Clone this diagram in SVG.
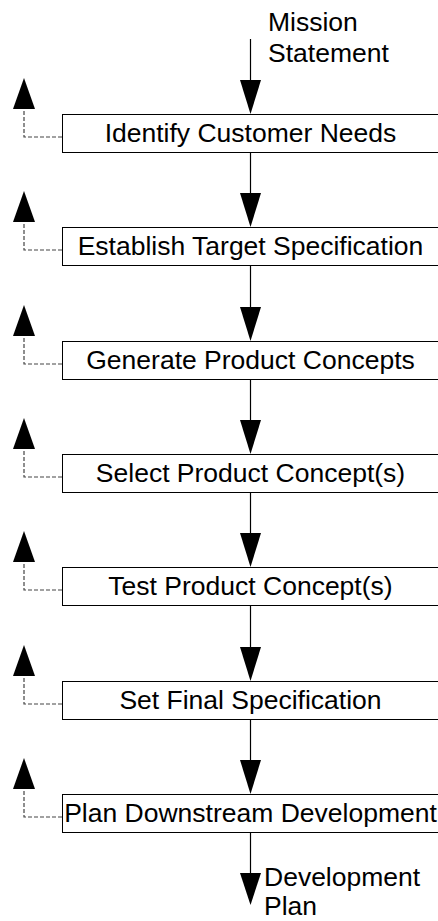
<svg xmlns="http://www.w3.org/2000/svg" width="438" height="921" viewBox="0 0 438 921">
<defs>
<style>
.box{fill:#fff;stroke:#000;stroke-width:1}
.lbl{font-family:"Liberation Sans",Arial,sans-serif;font-size:26.5px;fill:#000}
.c{text-anchor:middle}
.flow{stroke:#000;stroke-width:1.2;fill:none}
.head{fill:#000;stroke:none}
.fb{stroke:#444;stroke-width:1.2;fill:none;stroke-dasharray:4,2}
</style>
</defs>
<rect width="438" height="921" fill="#fff"/>
<g id="connectors">
<line class="flow" x1="250.5" y1="39" x2="250.5" y2="82"/>
<polygon class="head" points="240,80 261,80 250.5,114"/>
<line class="flow" x1="250.5" y1="152" x2="250.5" y2="195"/>
<polygon class="head" points="240,193 261,193 250.5,227"/>
<line class="flow" x1="250.5" y1="265" x2="250.5" y2="309"/>
<polygon class="head" points="240,307 261,307 250.5,341"/>
<line class="flow" x1="250.5" y1="379" x2="250.5" y2="422"/>
<polygon class="head" points="240,420 261,420 250.5,454"/>
<line class="flow" x1="250.5" y1="492" x2="250.5" y2="535"/>
<polygon class="head" points="240,533 261,533 250.5,567"/>
<line class="flow" x1="250.5" y1="605" x2="250.5" y2="649"/>
<polygon class="head" points="240,647 261,647 250.5,681"/>
<line class="flow" x1="250.5" y1="719" x2="250.5" y2="762"/>
<polygon class="head" points="240,760 261,760 250.5,794"/>
<line class="flow" x1="250.5" y1="832" x2="250.5" y2="875"/>
<polygon class="head" points="240,873 261,873 250.5,905"/>
<polyline class="fb" points="62,137 24,137 24,108"/>
<polygon class="head" points="13,109 35,109 24,78"/>
<polyline class="fb" points="62,250 24,250 24,221"/>
<polygon class="head" points="13,222 35,222 24,191"/>
<polyline class="fb" points="62,364 24,364 24,335"/>
<polygon class="head" points="13,336 35,336 24,305"/>
<polyline class="fb" points="62,477 24,477 24,448"/>
<polygon class="head" points="13,449 35,449 24,418"/>
<polyline class="fb" points="62,590 24,590 24,561"/>
<polygon class="head" points="13,562 35,562 24,531"/>
<polyline class="fb" points="62,704 24,704 24,675"/>
<polygon class="head" points="13,676 35,676 24,645"/>
<polyline class="fb" points="62,817 24,817 24,788"/>
<polygon class="head" points="13,789 35,789 24,758"/>
</g>
<g id="input">
<text class="lbl" x="268" y="31">Mission</text>
<text class="lbl" x="268" y="62">Statement</text>
</g>
<g id="n1"><rect class="box" x="62.5" y="114.5" width="380" height="38"/><text class="lbl c" x="250.5" y="142">Identify Customer Needs</text></g>
<g id="n2"><rect class="box" x="62.5" y="227.5" width="380" height="38"/><text class="lbl c" x="250.5" y="255">Establish Target Specification</text></g>
<g id="n3"><rect class="box" x="62.5" y="341.5" width="380" height="38"/><text class="lbl c" x="250.5" y="369">Generate Product Concepts</text></g>
<g id="n4"><rect class="box" x="62.5" y="454.5" width="380" height="38"/><text class="lbl c" x="250.5" y="482">Select Product Concept(s)</text></g>
<g id="n5"><rect class="box" x="62.5" y="567.5" width="380" height="38"/><text class="lbl c" x="250.5" y="595">Test Product Concept(s)</text></g>
<g id="n6"><rect class="box" x="62.5" y="681.5" width="380" height="38"/><text class="lbl c" x="250.5" y="709">Set Final Specification</text></g>
<g id="n7"><rect class="box" x="62.5" y="794.5" width="380" height="38"/><text class="lbl c" x="250.5" y="822">Plan Downstream Development</text></g>
<g id="output">
<text class="lbl" x="264" y="886">Development</text>
<text class="lbl" x="264" y="915">Plan</text>
</g>
</svg>
